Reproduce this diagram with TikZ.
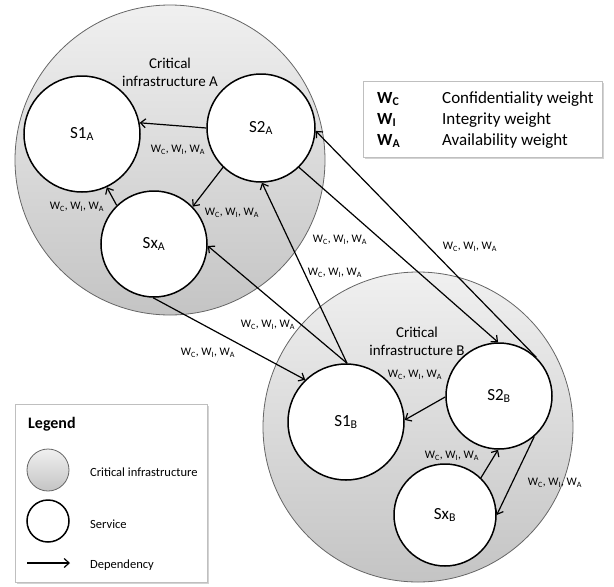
\documentclass[tikz,border=0pt]{standalone}
\usepackage{fontspec}
\setmainfont{Carlito}
\usetikzlibrary{positioning,calc,arrows.meta,shadows}
\definecolor{InfraTop}{RGB}{240,240,240}
\definecolor{InfraBot}{RGB}{196,196,196}
\tikzset{
  infra/.style={circle,draw=black!60,line width=0.8pt,top color=InfraTop,bottom color=InfraBot,inner sep=0pt},
  svc/.style={circle,draw=black,fill=white,line width=1.5pt,inner sep=0pt,font=\fontsize{17}{20}\selectfont},
  dep/.style={draw=black,line width=1.2pt,-{Straight Barb[length=5pt,width=9pt]}},
  wlabel/.style={font=\fontsize{11.5}{13}\selectfont,inner sep=0pt},
  keybox/.style={draw=black!25,fill=white,line width=0.8pt,
    drop shadow={shadow xshift=1.5pt,shadow yshift=-1.5pt,opacity=0.35}},
  keytext/.style={font=\fontsize{12.5}{15}\selectfont,anchor=west,inner sep=0pt},
}
\newcommand{\wcia}{W\textsubscript{C}, W\textsubscript{I}, W\textsubscript{A}}

\begin{document}
\begin{tikzpicture}[x=1pt,y=-1pt]
\useasboundingbox (0,0) rectangle (614,587);
% critical infrastructures
\node[infra,minimum size=310pt] (ciA) at (170,160) {};
\node[infra,minimum size=310pt] (ciB) at (418,427) {};
\node[align=center,font=\fontsize{15}{18}\selectfont] (ciAlbl) at (170,72) {Critical\\infrastructure A};
\node[align=center,font=\fontsize{15}{18}\selectfont] (ciBlbl) at (417,341) {Critical\\infrastructure B};
% services
\node[svc,minimum size=116pt] (s1a) at (82,134) {S1\textsubscript{A}};
\node[svc,minimum size=108pt] (s2a) at (261,128) {S2\textsubscript{A}};
\node[svc,minimum size=106pt] (sxa) at (154,244) {Sx\textsubscript{A}};
\node[svc,minimum size=116pt] (s1b) at (346,422) {S1\textsubscript{B}};
\node[svc,minimum size=106pt] (s2b) at (499,396) {S2\textsubscript{B}};
\node[svc,minimum size=102pt] (sxb) at (445,515) {Sx\textsubscript{B}};
% dependencies
\draw[dep] (s2a.180) -- (s1a.11);
\draw[dep] (s2a.226) -- (sxa.44);
\draw[dep] (sxa.134) -- (s1a.-65);
\draw[dep] (s1b.89) -- (sxa.-2);
\draw[dep] (s1b.89) -- (s2a.-89);
\draw[dep] (sxa.-91) -- (s1b.134);
\draw[dep] (s2a.-46) -- (s2b.91);
\draw[dep] (s2b.46) -- (s2a.-3);
\draw[dep] (s2b.181) -- (s1b.2);
\draw[dep] (sxb.46) -- (s2b.-91);
\draw[dep] (s2b.-49) -- (sxb.0);
% weights
\node[wlabel] (w1) at (178,150) {\wcia};
\node[wlabel] (w2) at (232,213) {\wcia};
\node[wlabel] (w3) at (77,207) {\wcia};
\node[wlabel] (w4) at (268,325) {\wcia};
\node[wlabel] (w5) at (335,273) {\wcia};
\node[wlabel] (w6) at (208,353) {\wcia};
\node[wlabel] (w7) at (340,240) {\wcia};
\node[wlabel] (w8) at (470,247) {\wcia};
\node[wlabel] (w9) at (415,375) {\wcia};
\node[wlabel] (w10) at (452,456) {\wcia};
\node[wlabel] (w11) at (555,483) {\wcia};
% weight key
\node[keybox,minimum width=239pt,minimum height=76pt] (wkey) at (482.5,119) {};
\foreach \sub/\txt [count=\i] in {C/Confidentiality weight,I/Integrity weight,A/Availability weight}{
  \node[anchor=west,inner sep=0pt,font=\fontsize{17}{20}\selectfont\bfseries] (wk\i) at (377,{78+21*\i}) {W\textsubscript{\sub}};
  \node[anchor=west,inner sep=0pt,font=\fontsize{17}{20}\selectfont] (wt\i) at (442,{78+21*\i}) {\txt};
}
% legend
\node[keybox,minimum width=192pt,minimum height=178pt] (legend) at (111,493) {};
\node[anchor=west,inner sep=0pt,font=\fontsize{16}{19}\selectfont\bfseries] (legtitle) at (28,424) {Legend};
\node[infra,minimum size=42pt] (leginfra) at (48,470) {};
\node[svc,minimum size=42pt] (legsvc) at (48,521) {};
\coordinate (legA) at (27,563);
\coordinate (legB) at (70,563);
\draw[dep] (legA) -- (legB);
\node[keytext] (lt1) at (90,472) {Critical infrastructure};
\node[keytext] (lt2) at (90,524) {Service};
\node[keytext] (lt3) at (90,565) {Dependency};
\end{tikzpicture}
\end{document}
